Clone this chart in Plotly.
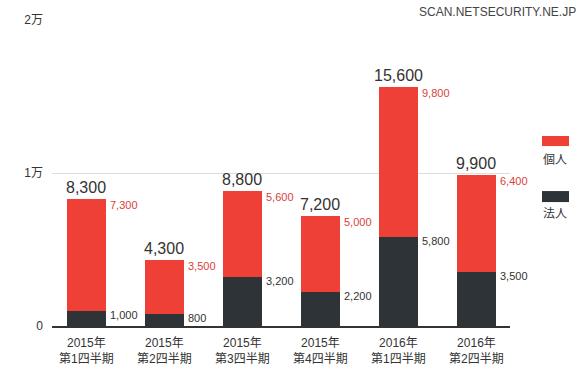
import plotly.graph_objects as go

categories = ["2015年<br>第1四半期", "2015年<br>第2四半期", "2015年<br>第3四半期",
              "2015年<br>第4四半期", "2016年<br>第1四半期", "2016年<br>第2四半期"]
kojin = [7300, 3500, 5600, 5000, 9800, 6400]     # 個人
hojin = [1000, 800, 3200, 2200, 5800, 3500]      # 法人
totals = [8300, 4300, 8800, 7200, 15600, 9900]
ytick_vals = [0, 10000, 20000]
ytick_text = ["0", "1万", "2万"]

RED = "#ee4036"
DARK = "#2e3338"
FONT = "Liberation Sans, Noto Sans CJK JP, sans-serif"

xs = list(range(len(categories)))

fig = go.Figure()
fig.add_trace(go.Bar(x=xs, y=hojin, name="法人", marker=dict(color=DARK, line=dict(width=0)),
                     width=0.5, hoverinfo="skip"))
fig.add_trace(go.Bar(x=xs, y=kojin, name="個人", marker=dict(color=RED, line=dict(width=0)),
                     width=0.5, hoverinfo="skip"))

ann = []
for i in xs:
    ann.append(dict(x=i, y=totals[i], xref="x", yref="y", text=f"{totals[i]:,}",
                    showarrow=False, yanchor="bottom", yshift=1,
                    font=dict(size=16, color="#333333", family=FONT)))
    ann.append(dict(x=i + 0.25, y=totals[i], xref="x", yref="y", text=f"{kojin[i]:,}",
                    showarrow=False, xanchor="left", yanchor="middle", xshift=2, yshift=-6,
                    font=dict(size=11, color="#d9413c", family=FONT)))
    ann.append(dict(x=i + 0.25, y=hojin[i], xref="x", yref="y", text=f"{hojin[i]:,}",
                    showarrow=False, xanchor="left", yanchor="middle", xshift=2, yshift=-4,
                    font=dict(size=11, color="#333333", family=FONT)))

# watermark
ann.append(dict(x=1.148, y=1.026, xref="paper", yref="paper", text="SCAN.NETSECURITY.NE.JP",
                showarrow=False, xanchor="right", yanchor="middle",
                font=dict(size=12, color="#444444", family=FONT)))
# legend texts
ann.append(dict(x=1.098, y=0.5425, xref="paper", yref="paper", text="個人", showarrow=False,
                xanchor="center", yanchor="middle", font=dict(size=12, color="#333333", family=FONT)))
ann.append(dict(x=1.098, y=0.366, xref="paper", yref="paper", text="法人", showarrow=False,
                xanchor="center", yanchor="middle", font=dict(size=12, color="#333333", family=FONT)))

shapes = [
    dict(type="rect", xref="paper", yref="paper", x0=1.0699, x1=1.1288, y0=0.588, y1=0.621,
         fillcolor=RED, line=dict(width=0)),
    dict(type="rect", xref="paper", yref="paper", x0=1.0699, x1=1.1288, y0=0.405, y1=0.441,
         fillcolor=DARK, line=dict(width=0)),
]

fig.update_layout(
    width=588, height=371,
    margin=dict(l=52, r=78, t=20, b=45),
    paper_bgcolor="white", plot_bgcolor="white",
    barmode="stack", showlegend=False,
    annotations=ann, shapes=shapes,
    font=dict(family=FONT, color="#333333"),
    xaxis=dict(tickmode="array", tickvals=xs, ticktext=categories, range=[-0.44, 5.43],
               showgrid=False, zeroline=False, showline=True, linecolor="#333333", linewidth=1.5,
               ticks="", ticklabelstandoff=5, automargin=False,
               tickfont=dict(size=12, color="#333333", family=FONT)),
    yaxis=dict(range=[0, 20000], tickmode="array", tickvals=ytick_vals, ticktext=ytick_text,
               showgrid=True, gridcolor="#dddddd", gridwidth=1, zeroline=False, showline=False,
               ticks="", ticklabelstandoff=8, automargin=False,
               tickfont=dict(size=12, color="#333333", family=FONT)),
)

fig.write_html("out.html", config={"displayModeBar": False},
               post_script="document.body.style.margin='0';document.body.style.overflow='hidden';")
